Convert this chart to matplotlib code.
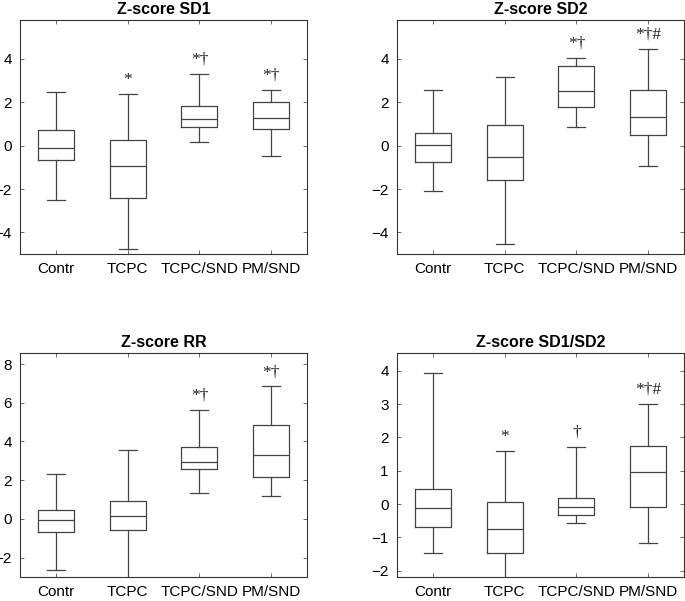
import matplotlib.pyplot as plt

plt.rcParams['font.family'] = ['Liberation Sans', 'DejaVu Sans']

groups = ["Contr", "TCPC", "TCPC/SND", "PM/SND"]

# whisker low, q1, median, q3, whisker high for each group
sd1_stats = [(-2.5, -0.65, -0.1, 0.72, 2.5),
             (-4.75, -2.4, -0.92, 0.25, 2.38),
             (0.17, 0.85, 1.25, 1.82, 3.32),
             (-0.47, 0.77, 1.28, 2.0, 2.58)]
sd1_marks = ["", "*", "*†", "*†"]

sd2_stats = [(-2.1, -0.75, 0.02, 0.58, 2.57),
             (-4.55, -1.57, -0.52, 0.95, 3.15),
             (0.85, 1.78, 2.52, 3.68, 4.03),
             (-0.92, 0.47, 1.32, 2.55, 4.45)]
sd2_marks = ["", "", "*†", "*†#"]

rr_stats = [(-2.65, -0.7, -0.07, 0.47, 2.33),
            (-3.3, -0.58, 0.17, 0.93, 3.55),
            (1.36, 2.6, 2.95, 3.69, 5.65),
            (1.16, 2.17, 3.29, 4.86, 6.84)]
rr_marks = ["", "", "*†", "*†"]

ratio_stats = [(-1.48, -0.7, -0.13, 0.46, 3.92),
               (-2.4, -1.48, -0.76, 0.07, 1.59),
               (-0.56, -0.32, -0.1, 0.19, 1.72),
               (-1.16, -0.08, 0.95, 1.74, 3.01)]
ratio_marks = ["", "*", "†", "*†#"]

panels = [
    ("Z-score SD1", sd1_stats, sd1_marks, (-5, 5.8), [-4, -2, 0, 2, 4]),
    ("Z-score SD2", sd2_stats, sd2_marks, (-5, 5.8), [-4, -2, 0, 2, 4]),
    ("Z-score RR", rr_stats, rr_marks, (-3, 8.57), [-2, 0, 2, 4, 6, 8]),
    ("Z-score SD1/SD2", ratio_stats, ratio_marks, (-2.19, 4.53), [-2, -1, 0, 1, 2, 3, 4]),
]

# axes corners in pixels (left, top)
W, H = 685, 601
rects = [(20, 20), (397, 20), (20, 353), (397, 353)]
ax_w = 287

fig = plt.figure(figsize=(6.85, 6.01), dpi=100)
line_c = '#444444'

for (title, stats, marks, ylim, yticks), (lx, ty) in zip(panels, rects):
    h = 234 if ty == 20 else 224
    ax = fig.add_axes([lx / W, 1 - (ty + h) / H, ax_w / W, h / H])
    bstats = []
    for name, (lo, q1, med, q3, hi) in zip(groups, stats):
        bstats.append(dict(label=name, whislo=lo, q1=q1, med=med, q3=q3, whishi=hi, fliers=[]))
    ax.bxp(bstats, positions=[1, 2, 3, 4], widths=0.5, capwidths=0.25, showfliers=False,
           boxprops=dict(color=line_c, lw=0.9),
           whiskerprops=dict(color=line_c, lw=0.9, linestyle='-'),
           capprops=dict(color=line_c, lw=0.9),
           medianprops=dict(color=line_c, lw=0.9))
    span = ylim[1] - ylim[0]
    for i, m in enumerate(marks):
        if m:
            ax.text(i + 1, stats[i][4] + 0.028 * span, m, ha='center', va='bottom',
                    fontsize=12.5, family=['Liberation Serif', 'DejaVu Serif'], color='#222222')
    ax.set_xlim(0.5, 4.5)
    ax.set_ylim(*ylim)
    ax.set_yticks(yticks)
    ax.set_xticks([1, 2, 3, 4])
    ax.set_xticklabels(groups)
    ax.tick_params(direction='in', top=True, right=True, labelsize=11, length=3,
                   width=0.6, color='#555555', pad=6)
    for s in ax.spines.values():
        s.set_linewidth(0.8)
        s.set_color('#333333')
    ax.set_title(title, fontsize=11.5, fontweight='bold', pad=4)

fig.savefig("out.png", dpi=100)
